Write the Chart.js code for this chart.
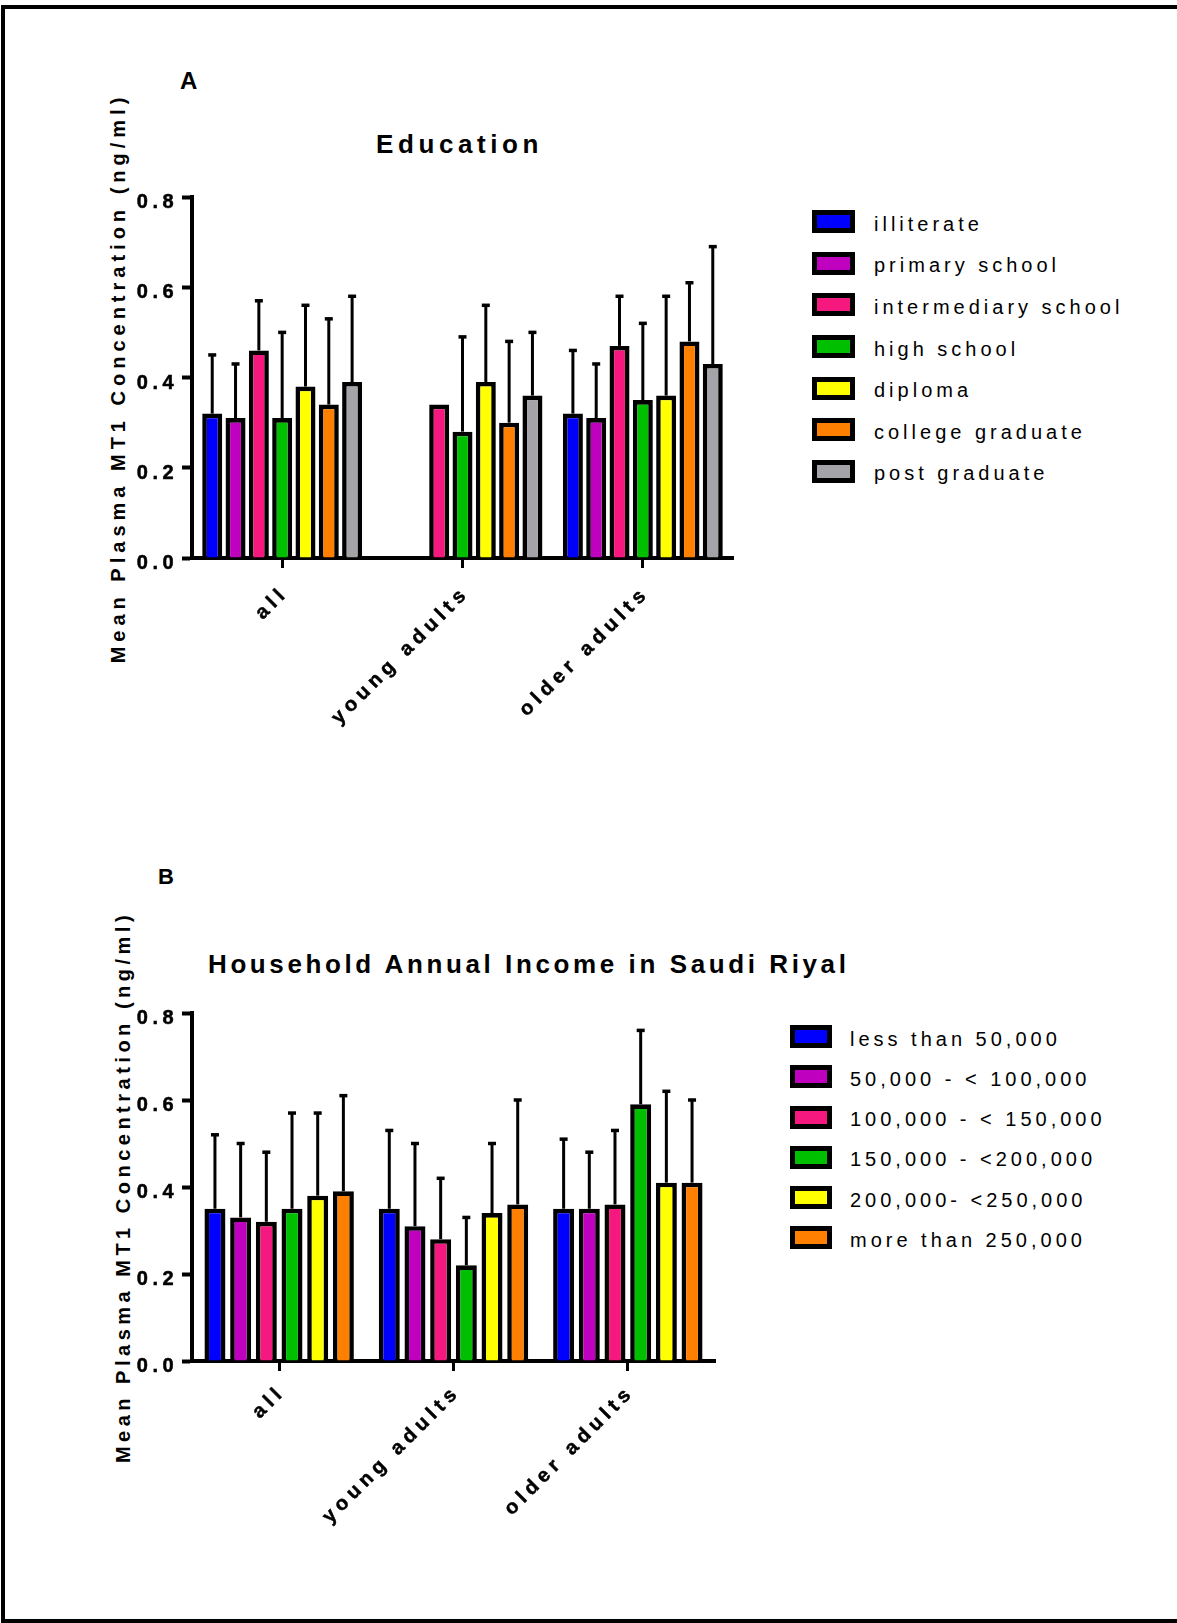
<!DOCTYPE html>
<html>
<head>
<meta charset="utf-8">
<title>Plasma MT1 by education and income</title>
<script src="https://cdn.jsdelivr.net/npm/chart.js@4.4.1/dist/chart.umd.min.js"></script>
<style>
  body { margin: 0; background: #fff; font-family: "Liberation Sans", Arial, sans-serif; color: #000; }
  #page { position: relative; width: 1177px; height: 1623px; overflow: hidden; background: #fff; }
  #frame { position: absolute; left: 1px; top: 5px; width: 1250px; height: 1610px; border: 4px solid #000; border-right: none; }
  .txt { position: absolute; white-space: nowrap; font-weight: bold; }
  .letter { font-size: 24px; line-height: 28px; }
  .title { font-size: 26px; line-height: 30px; }
  .ytitle { font-size: 20px; line-height: 24px; width: 700px; text-align: center; transform: rotate(-90deg); }
  .tick { position: absolute; white-space: nowrap; font-weight: bold; font-size: 20px; line-height: 22px;
          -webkit-text-stroke: 0.5px #000; }
  canvas { position: absolute; left: 0; }
  .key { position: absolute; box-sizing: border-box; border: 5px solid #000; }
  .keytext { position: absolute; white-space: nowrap; font-size: 20px; line-height: 24px; letter-spacing: 4px; }
</style>
</head>
<body>
<div id="page">
  <div id="frame"></div>

  <div class="txt letter" style="left:180px; top:67px;">A</div>
  <div class="txt title" style="left:376px; top:129px; letter-spacing:4.6px;">Education</div>
  <div class="txt ytitle" style="left:-232px; top:366px; letter-spacing:5px;">Mean Plasma MT1 Concentration (ng/ml)</div>
  <canvas id="eduChart" width="760" height="560" style="top:180px;"></canvas>
  <div id="eduLegend"></div>

  <div class="txt letter" style="left:158px; top:864px; font-size:22px; line-height:26px;">B</div>
  <div class="txt title" style="left:208px; top:949px; letter-spacing:3.6px;">Household Annual Income in Saudi Riyal</div>
  <div class="txt ytitle" style="left:-227px; top:1175px; letter-spacing:4.5px;">Mean Plasma MT1 Concentration (ng/ml)</div>
  <canvas id="incomeChart" width="760" height="560" style="top:990px;"></canvas>
  <div id="incomeLegend"></div>
</div>

<script>
// age groups on the x axis (both panels)
const groups = ['all', 'young adults', 'older adults'];
const yTickValues = [0, 0.2, 0.4, 0.6, 0.8];

// panel A: education level
const eduLevels = ['illiterate', 'primary school', 'intermediary school', 'high school',
                   'diploma', 'college graduate', 'post graduate'];
const eduColors = ['#0000FF', '#BF00BF', '#F5187F', '#00BF00', '#FFFF00', '#FF8000', '#A3A3A8'];
// mean per group, one row per education level
const eduMean = [
  [0.32, null, 0.32],
  [0.31, null, 0.31],
  [0.46, 0.34, 0.47],
  [0.31, 0.28, 0.35],
  [0.38, 0.39, 0.36],
  [0.34, 0.30, 0.48],
  [0.39, 0.36, 0.43]
];
// standard deviation (upper whisker only)
const eduSD = [
  [0.13, null, 0.14],
  [0.12, null, 0.12],
  [0.11, null, 0.11],
  [0.19, 0.21, 0.17],
  [0.18, 0.17, 0.22],
  [0.19, 0.18, 0.13],
  [0.19, 0.14, 0.26]
];

// panel B: household annual income (Saudi Riyal)
const incomeLevels = ['less than 50,000', '50,000 - < 100,000', '100,000 - < 150,000',
                      '150,000 - <200,000', '200,000- <250,000', 'more than 250,000'];
const incomeColors = ['#0000FF', '#BF00BF', '#F5187F', '#00BF00', '#FFFF00', '#FF8000'];
const incomeMean = [
  [0.35, 0.35, 0.35],
  [0.33, 0.31, 0.35],
  [0.32, 0.28, 0.36],
  [0.35, 0.22, 0.59],
  [0.38, 0.34, 0.41],
  [0.39, 0.36, 0.41]
];
const incomeSD = [
  [0.17, 0.18, 0.16],
  [0.17, 0.19, 0.13],
  [0.16, 0.14, 0.17],
  [0.22, 0.11, 0.17],
  [0.19, 0.16, 0.21],
  [0.22, 0.24, 0.19]
];

Chart.defaults.color = '#000';
Chart.defaults.font.family = '"Liberation Sans", Arial, sans-serif';

// upward SD whiskers with a small cap
const errorBars = {
  id: 'errorBars',
  afterDatasetsDraw(chart) {
    const ctx = chart.ctx;
    const yScale = chart.scales.y;
    ctx.save();
    ctx.strokeStyle = '#000';
    chart.data.datasets.forEach(function(ds, i) {
      const meta = chart.getDatasetMeta(i);
      meta.data.forEach(function(bar, j) {
        const v = ds.data[j], sd = ds.sd[j];
        if (v == null || sd == null) return;
        const top = yScale.getPixelForValue(v + sd);
        ctx.lineWidth = 3;
        ctx.beginPath();
        ctx.moveTo(bar.x, bar.y);
        ctx.lineTo(bar.x, top);
        ctx.stroke();
        ctx.lineWidth = 3.5;
        ctx.beginPath();
        ctx.moveTo(bar.x - 4, top);
        ctx.lineTo(bar.x + 4, top);
        ctx.stroke();
      });
    });
    ctx.restore();
  }
};

function makeChart(id, names, colors, means, sds, opt) {
  const datasets = names.map(function(name, i) {
    return {
      label: name,
      data: means[i],
      sd: sds[i],
      backgroundColor: colors[i],
      borderColor: '#000',
      borderWidth: 4.6,
      categoryPercentage: opt.catPct,
      barPercentage: opt.barPct
    };
  });
  return new Chart(document.getElementById(id).getContext('2d'), {
    type: 'bar',
    data: { labels: groups, datasets: datasets },
    plugins: [errorBars],
    options: {
      responsive: false,
      animation: false,
      events: [],
      layout: { padding: { top: opt.padTop, right: opt.padRight, bottom: 0, left: 0 } },
      plugins: { legend: { display: false }, tooltip: { enabled: false } },
      scales: {
        x: {
          offset: true,
          grid: { offset: false, drawOnChartArea: false, tickLength: 10, tickWidth: 3, color: '#000' },
          border: { display: true, width: 4, color: '#000' },
          ticks: { display: false, autoSkip: false },
          afterFit: function(s) { s.height = opt.xHeight; }
        },
        y: {
          min: 0,
          max: 0.8,
          grid: { drawOnChartArea: false, tickLength: 10, tickWidth: 4, color: '#000' },
          border: { display: true, width: 4, color: '#000' },
          afterBuildTicks: function(s) {
            s.ticks = yTickValues.map(function(v) { return { value: v }; });
          },
          ticks: { display: false },
          afterFit: function(s) { s.width = 192; }
        }
      }
    }
  });
}

// tick labels as spaced-out text, placed at the chart's own tick pixels
function addTickLabels(chart, canvasTop, labelDrop) {
  const page = document.getElementById('page');
  const xs = chart.scales.x, ys = chart.scales.y;
  const baseline = 17.9;   // baseline offset inside a 22px line box at 20px

  ys.ticks.forEach(function(t, i) {
    const d = document.createElement('div');
    d.className = 'tick';
    d.style.letterSpacing = '4.5px';
    d.textContent = Number(t.value).toFixed(1);
    page.appendChild(d);
    const w = d.offsetWidth - 4.5;
    d.style.left = (ys.right - 18.7 - w) + 'px';
    d.style.top = (canvasTop + ys.getPixelForTick(i) + 11 - baseline) + 'px';
  });

  xs.ticks.forEach(function(t, i) {
    const d = document.createElement('div');
    d.className = 'tick';
    d.style.letterSpacing = '5.1px';
    d.textContent = xs.getLabelForValue(t.value);
    page.appendChild(d);
    const w = d.offsetWidth - 5.1;
    const ax = xs.getPixelForTick(i) + 4;
    const ay = canvasTop + xs.top + labelDrop;
    d.style.left = (ax - w) + 'px';
    d.style.top = (ay - baseline) + 'px';
    d.style.transformOrigin = w + 'px ' + baseline + 'px';
    d.style.transform = 'rotate(-45deg)';
  });
}

function makeLegend(id, names, colors, pos) {
  const el = document.getElementById(id);
  names.forEach(function(name, i) {
    const cy = pos.top + i * pos.pitch;
    const box = document.createElement('div');
    box.className = 'key';
    box.style.left = pos.boxLeft + 'px';
    box.style.top = (cy - 11.5) + 'px';
    box.style.width = pos.boxWidth + 'px';
    box.style.height = '23px';
    box.style.background = colors[i];
    el.appendChild(box);
    const t = document.createElement('div');
    t.className = 'keytext';
    t.style.left = pos.textLeft + 'px';
    t.style.top = (cy - 10) + 'px';
    t.textContent = name;
    el.appendChild(t);
  });
}

const eduChart = makeChart('eduChart', eduLevels, eduColors, eduMean, eduSD,
  { catPct: 0.905, barPct: 0.858, padTop: 17, padRight: 27, xHeight: 182 });
const incomeChart = makeChart('incomeChart', incomeLevels, incomeColors, incomeMean, incomeSD,
  { catPct: 0.884, barPct: 0.817, padTop: 23, padRight: 45, xHeight: 189 });

addTickLabels(eduChart, 180, 39);
addTickLabels(incomeChart, 990, 35);

makeLegend('eduLegend', eduLevels, eduColors,
  { top: 221.7, pitch: 41.6, boxLeft: 812, boxWidth: 43, textLeft: 874 });
makeLegend('incomeLegend', incomeLevels, incomeColors,
  { top: 1036.7, pitch: 40.2, boxLeft: 790, boxWidth: 42, textLeft: 850 });
</script>
</body>
</html>
